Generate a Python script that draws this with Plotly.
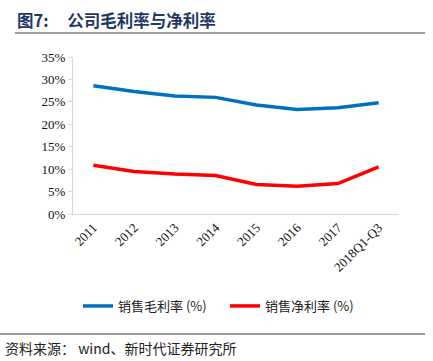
import plotly.graph_objects as go

categories = ["2011", "2012", "2013", "2014", "2015", "2016", "2017", "2018Q1-Q3"]
gross_margin = [28.6, 27.3, 26.3, 26.0, 24.3, 23.3, 23.7, 24.8]
net_margin = [10.85, 9.5, 8.9, 8.6, 6.6, 6.2, 6.8, 10.5]
y_ticks = [0, 5, 10, 15, 20, 25, 30, 35]
y_labels = [f"{v}%" for v in y_ticks]

W, H = 433, 361
L, R, T, B = 73, 399, 57, 214
pw, ph = R - L, B - T

def px(x):
    return (x - L) / pw

def py(y):
    return (B - y) / ph

serif = "Liberation Serif, Times New Roman, serif"
cjk = "Noto Sans CJK SC, sans-serif"

fig = go.Figure()
fig.add_trace(go.Scatter(x=categories, y=gross_margin, mode="lines", name="销售毛利率 (%)",
                         line=dict(color="#0070C0", width=3.5)))
fig.add_trace(go.Scatter(x=categories, y=net_margin, mode="lines", name="销售净利率 (%)",
                         line=dict(color="#FF0000", width=3.5)))

fig.update_layout(
    width=W, height=H,
    margin=dict(l=L, r=W - R, t=T, b=H - B, autoexpand=False),
    paper_bgcolor="white", plot_bgcolor="white",
    showlegend=True,
    legend=dict(orientation="h", x=px(78), y=py(306), xanchor="left", yanchor="middle",
                font=dict(family=cjk, size=13, color="#222"),
                entrywidth=102, entrywidthmode="pixels", itemwidth=30,
                bgcolor="rgba(0,0,0,0)"),
    xaxis=dict(type="category", showgrid=False, showline=True, linecolor="#d9d9d9", linewidth=1,
               ticks="", tickangle=-45, tickfont=dict(family=serif, size=13, color="#111"),
               range=[-0.5, len(categories) - 0.5]),
    yaxis=dict(range=[0, 35], tickvals=y_ticks, ticktext=y_labels, showgrid=False,
               showline=True, linecolor="#d9d9d9", linewidth=1, ticks="outside", ticklen=4,
               tickcolor="#d9d9d9", tickfont=dict(family=serif, size=13, color="#111"),
               zeroline=False),
)

fig.add_annotation(x=px(15), y=py(20), xref="paper", yref="paper", xanchor="left", yanchor="middle",
                   text="<b>图7:     公司毛利率与净利率</b>", showarrow=False,
                   font=dict(family=cjk, size=16.5, color="#1F3864"))
fig.add_shape(type="line", xref="paper", yref="paper", x0=px(15), x1=px(425), y0=py(33), y1=py(33),
              line=dict(color="#7f7f7f", width=1.5))
fig.add_shape(type="line", xref="paper", yref="paper", x0=px(0), x1=px(425), y0=py(334), y1=py(334),
              line=dict(color="#333333", width=1))
fig.add_annotation(x=px(3), y=py(348), xref="paper", yref="paper", xanchor="left", yanchor="middle",
                   text="资料来源： wind、新时代证券研究所", showarrow=False,
                   font=dict(family=cjk, size=14, color="#222"))

fig.write_html("out.html", config={"displayModeBar": False},
               post_script="document.body.style.margin='0';document.body.style.overflow='hidden';")
